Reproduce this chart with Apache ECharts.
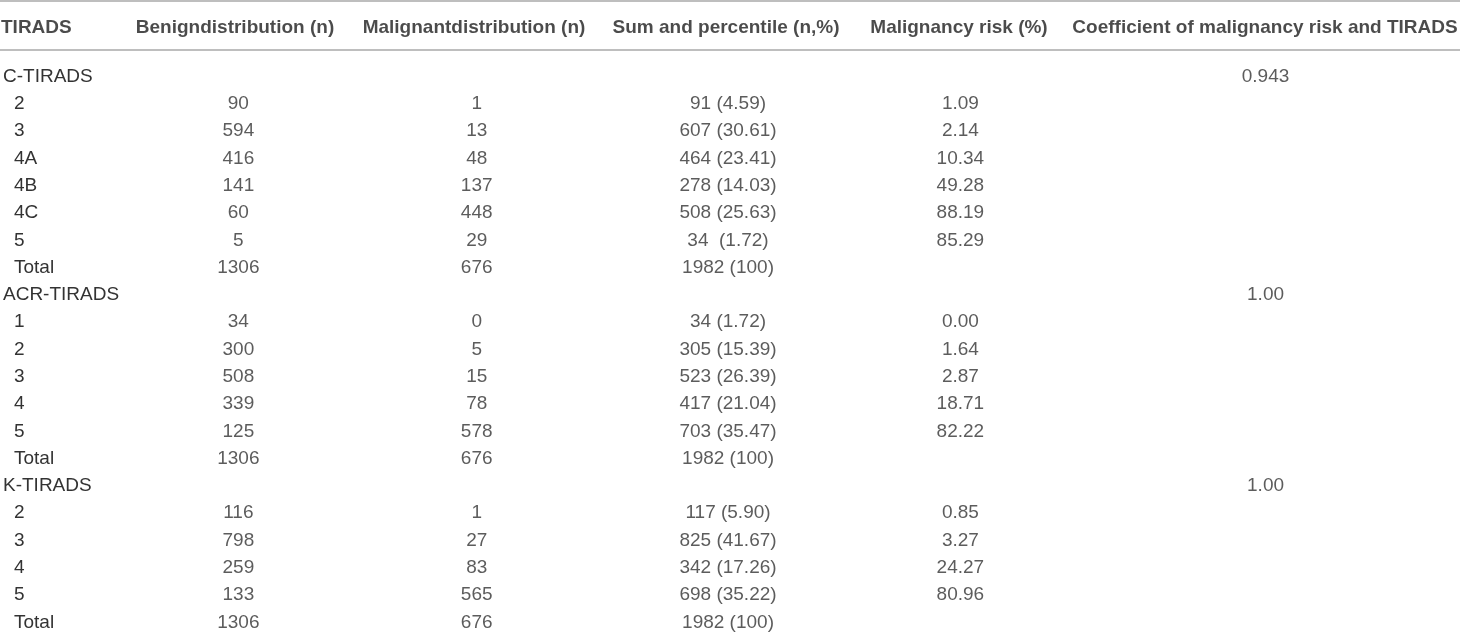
<!DOCTYPE html>
<html>
<head>
<meta charset="utf-8">
<title>TIRADS table</title>
<script src="https://cdn.jsdelivr.net/npm/echarts@6/dist/echarts.min.js"></script>
<style>
    html, body { margin: 0; padding: 0; background: #fff; }
    #table { width: 1460px; height: 636px; }
</style>
</head>
<body>
<div id="table"></div>
<script>
// 表头
const headers = ['TIRADS', 'Benigndistribution (n)', 'Malignantdistribution (n)',
    'Sum and percentile (n,%)', 'Malignancy risk (%)', 'Coefficient of malignancy risk and TIRADS'];

// 分组
const groups = ['C-TIRADS', 'ACR-TIRADS', 'K-TIRADS'];

// 每一行 (第一列)
const tirads = ['C-TIRADS', '2', '3', '4A', '4B', '4C', '5', 'Total',
    'ACR-TIRADS', '1', '2', '3', '4', '5', 'Total',
    'K-TIRADS', '2', '3', '4', '5', 'Total'];

const benign    = [null, 90, 594, 416, 141, 60, 5, 1306,
    null, 34, 300, 508, 339, 125, 1306,
    null, 116, 798, 259, 133, 1306];

const malignant = [null, 1, 13, 48, 137, 448, 29, 676,
    null, 0, 5, 15, 78, 578, 676,
    null, 1, 27, 83, 565, 676];

const sumPercent = [null, '91 (4.59)', '607 (30.61)', '464 (23.41)', '278 (14.03)', '508 (25.63)', '34  (1.72)', '1982 (100)',
    null, '34 (1.72)', '305 (15.39)', '523 (26.39)', '417 (21.04)', '703 (35.47)', '1982 (100)',
    null, '117 (5.90)', '825 (41.67)', '342 (17.26)', '698 (35.22)', '1982 (100)'];

const risk = [null, '1.09', '2.14', '10.34', '49.28', '88.19', '85.29', null,
    null, '0.00', '1.64', '2.87', '18.71', '82.22', null,
    null, '0.85', '3.27', '24.27', '80.96', null];

const coefficient = ['0.943', null, null, null, null, null, null, null,
    '1.00', null, null, null, null, null, null,
    '1.00', null, null, null, null, null];

// 版式 (x 轴以像素为单位)
const W = 1460;
const colX = [1, 235, 474, 726, 959, 1265];
const font = "'Liberation Sans', Arial, Helvetica, sans-serif";
const lineStyle = { color: '#a8a8a8', width: 1.5 };

// 生成单元格
function cells(values, col) {
    let out = [];
    values.forEach((v, i) => {
        if (v !== null && v !== undefined) out.push({ name: String(v), value: [colX[col], i] });
    });
    return out;
}

function column(values, col) {
    return {
        type: 'scatter',
        xAxisIndex: 2,
        yAxisIndex: 1,
        symbolSize: 1,
        silent: true,
        itemStyle: { color: 'transparent' },
        label: {
            show: true,
            position: 'inside',
            formatter: '{b}',
            fontFamily: font,
            fontSize: 19,
            color: '#333'
        },
        data: cells(values, col)
    };
}

let chart = echarts.init(document.getElementById('table'));
let option = {
    animation: false,
    grid: [
        { left: 0, right: 0, top: 1, height: 49 },
        { left: 0, right: 0, top: 63, height: 574 }
    ],
    xAxis: [
        { gridIndex: 0, type: 'value', min: 0, max: W, position: 'top',
          axisLine: { show: true, lineStyle: lineStyle }, axisTick: { show: false },
          axisLabel: { show: false }, splitLine: { show: false } },
        { gridIndex: 0, type: 'value', min: 0, max: W, position: 'bottom',
          axisLine: { show: true, lineStyle: lineStyle }, axisTick: { show: false },
          axisLabel: { show: false }, splitLine: { show: false } },
        { gridIndex: 1, type: 'value', min: 0, max: W, show: false }
    ],
    yAxis: [
        { gridIndex: 0, type: 'category', data: [''], show: false },
        {
            gridIndex: 1, type: 'category', data: tirads, inverse: true,
            axisLine: { show: false }, axisTick: { show: false }, splitLine: { show: false },
            axisLabel: {
                inside: true,
                margin: -1,
                align: 'left',
                interval: 0,
                formatter: v => groups.includes(v) ? '{g|' + v + '}' : '{s|' + v + '}',
                rich: {
                    g: { fontFamily: font, fontSize: 19, color: '#333' },
                    s: { fontFamily: font, fontSize: 19, color: '#333', padding: [0, 0, 0, 11] }
                }
            }
        }
    ],
    series: [
        {
            type: 'scatter',
            xAxisIndex: 0,
            yAxisIndex: 0,
            symbolSize: 1,
            silent: true,
            itemStyle: { color: 'transparent' },
            label: {
                show: true,
                position: 'inside',
                formatter: '{b}',
                offset: [0, 2],
                fontFamily: font,
                fontSize: 19,
                fontWeight: 'bold',
                color: '#1e1e1e'
            },
            data: headers.map((h, c) => ({
                name: h,
                value: [colX[c], 0],
                label: c === 0 ? { align: 'left' } : undefined
            }))
        },
        column(benign, 1),
        column(malignant, 2),
        column(sumPercent, 3),
        column(risk, 4),
        column(coefficient, 5)
    ]
};
chart.setOption(option);
</script>
</body>
</html>
